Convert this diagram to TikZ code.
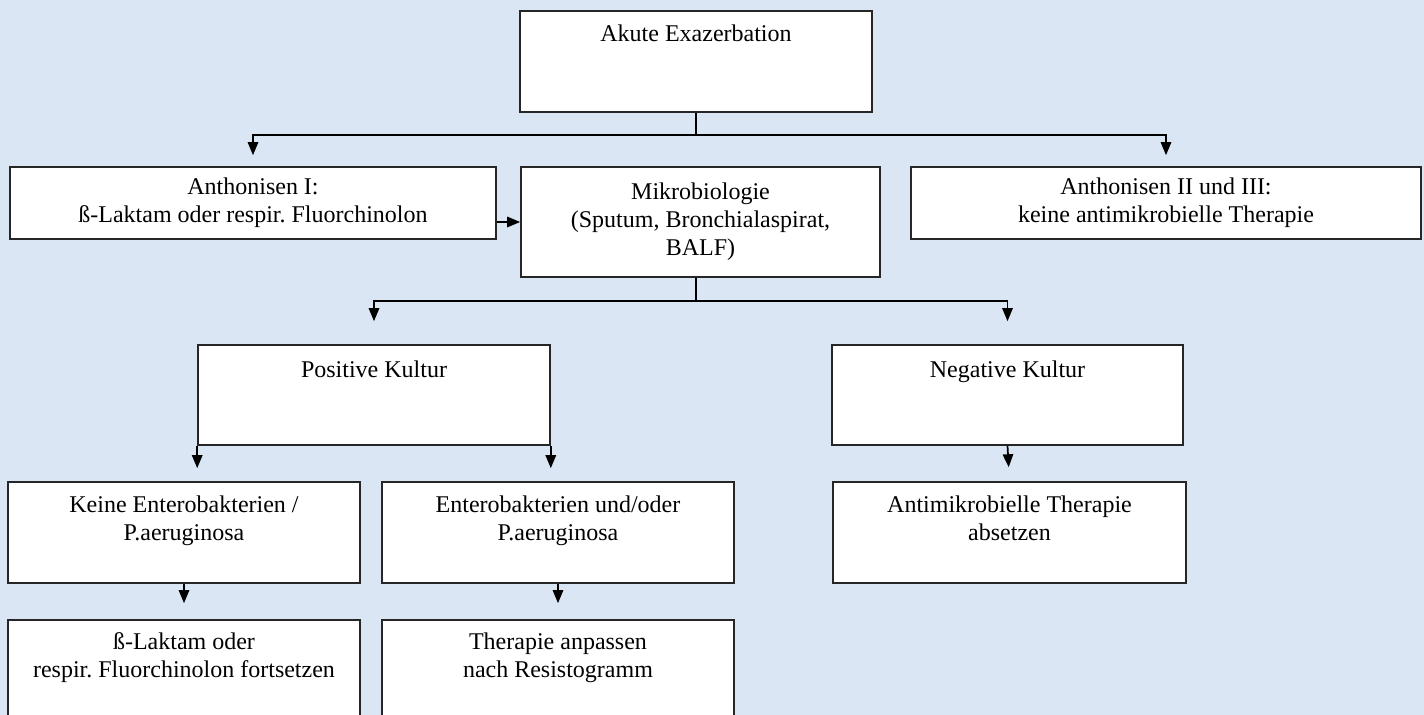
\documentclass[tikz,border=0pt]{standalone}
\usepackage{fontspec}
\setmainfont{Liberation Serif}
\usepackage{xcolor}
\usetikzlibrary{arrows.meta,positioning,calc}

\definecolor{bgblue}{HTML}{DBE6F4}
\frenchspacing

\begin{document}
\begin{tikzpicture}[x=0.5pt, y=-0.5pt,
  entry/.style={rectangle, draw=black!85, line width=0.8pt, fill=white,
                align=center, font=\fontsize{12}{14}\selectfont,
                inner sep=0pt},
  note/.style={align=center, font=\fontsize{12}{14}\selectfont, inner sep=0pt},
  edge/.style={draw, line width=0.85pt,
               -{Triangle[length=6.5pt, width=5.2pt]}},
]
  \useasboundingbox (0,0) rectangle (1424,715);
  \clip (0,0) rectangle (1424,715);
  \fill[bgblue] (0,0) rectangle (1424,715);

  % ===== Start =====
  \node[entry, minimum width=176pt, minimum height=50.5pt] (akut) at (696,61.5) {};
  \node[note, below=7pt of akut.north] (akutT) {Akute Exazerbation};

  % ===== Second row =====
  \node[entry, minimum width=243pt, minimum height=36pt] (anthI) at (253,203)
       {Anthonisen I:\\ ß-Laktam oder respir. Fluorchinolon};
  \node[entry, minimum width=179.5pt, minimum height=55pt] (mikro) at (700.5,222)
       {Mikrobiologie\\ (Sputum, Bronchialaspirat,\\ BALF)};
  \node[entry, minimum width=255pt, minimum height=36pt] (anthII) at (1166,203)
       {Anthonisen II und III:\\ keine antimikrobielle Therapie};

  % ===== Cultures =====
  \node[entry, minimum width=176pt, minimum height=50pt] (poskult) at (374,395) {};
  \node[note, below=8pt of poskult.north] (poskultT) {Positive Kultur};
  \node[entry, minimum width=175.5pt, minimum height=50pt] (negkult) at (1007.5,395) {};
  \node[note, below=8pt of negkult.north] (negkultT) {Negative Kultur};

  % ===== Pathogens =====
  \node[entry, minimum width=176pt, minimum height=50.5pt] (keine) at (184,532.5) {};
  \node[note, below=7pt of keine.north] (keineT) {Keine Enterobakterien /\\ P.aeruginosa};
  \node[entry, minimum width=176pt, minimum height=50.5pt] (entero) at (558,532.5) {};
  \node[note, below=7pt of entero.north] (enteroT) {Enterobakterien und/oder\\ P.aeruginosa};
  \node[entry, minimum width=176.5pt, minimum height=50.5pt] (absetzen) at (1009.5,532.5) {};
  \node[note, below=7pt of absetzen.north] (absetzenT) {Antimikrobielle Therapie\\ absetzen};

  % ===== Therapy (cut off at the bottom) =====
  \node[entry, minimum width=176pt, minimum height=60pt] (laktam) at (184,680) {};
  \node[note, below=6.5pt of laktam.north] (laktamT) {ß-Laktam oder\\ respir. Fluorchinolon fortsetzen};
  \node[entry, minimum width=176pt, minimum height=60pt] (resisto) at (558,680) {};
  \node[note, below=6.5pt of resisto.north] (resistoT) {Therapie anpassen\\ nach Resistogramm};

  % ===== Edges =====
  \draw[edge, shorten >=5.5pt] (akut.south) -- ++(0,22) -| (anthI.north);
  \draw[edge, shorten >=5.5pt] (akut.south) -- ++(0,22) -| (anthII.north);
  \draw[edge] (anthI.east |- mikro.west) -- (mikro.west);

  \draw[edge, shorten >=11.5pt] (mikro.south -| akut.south) -- ++(0,23) -| (poskult.north);
  \draw[edge, shorten >=11.5pt] (mikro.south -| akut.south) -- ++(0,23) -| (negkult.north);

  \draw[edge, shorten >=6.5pt] (poskult.south west) -- (poskult.south west |- keine.north);
  \draw[edge, shorten >=6.5pt] (poskult.south east) -- (poskult.south east |- entero.north);
  \draw[edge, shorten >=7pt] (negkult.south) -- (absetzen.north);

  \draw[edge, shorten >=8pt] (keine.south) -- (laktam.north);
  \draw[edge, shorten >=8pt] (entero.south) -- (resisto.north);

\end{tikzpicture}
\end{document}
